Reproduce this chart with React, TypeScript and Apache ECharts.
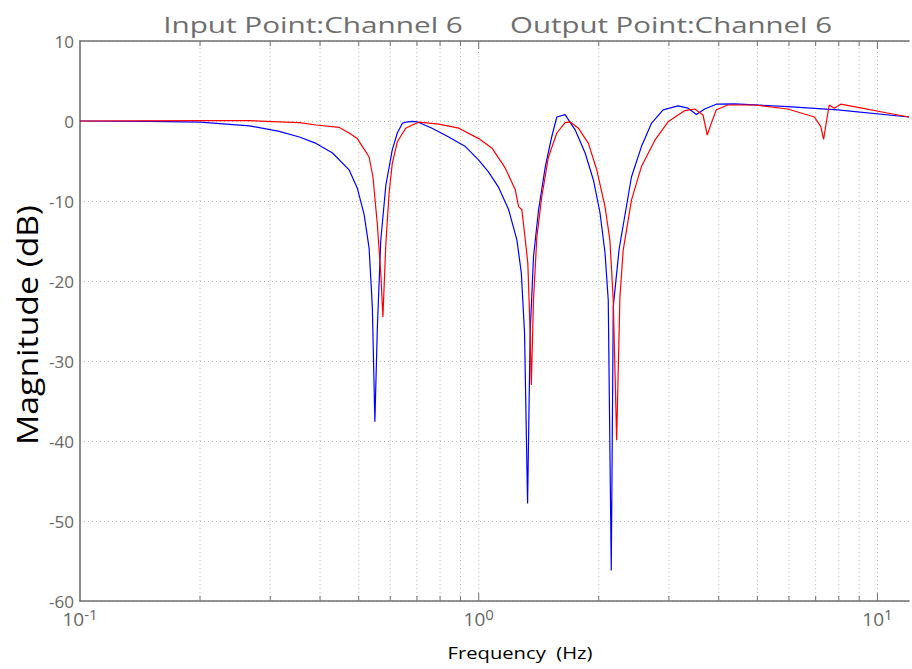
import React, { useEffect, useRef } from "react";
import * as echarts from "echarts";

// ---- data ----
const blueFreq = [
  0.1, 0.15, 0.2, 0.266, 0.316, 0.355, 0.391, 0.43, 0.473, 0.496, 0.516, 0.531, 0.541, 0.549, 0.557,
  0.568, 0.585, 0.607, 0.625, 0.643, 0.656, 0.681, 0.701, 0.764, 0.841, 0.926, 1.0, 1.059, 1.122,
  1.189, 1.247, 1.279, 1.303, 1.326, 1.346, 1.372, 1.413, 1.469, 1.524, 1.57, 1.647, 1.745, 1.849,
  1.94, 2.015, 2.074, 2.113, 2.15, 2.175, 2.25, 2.416, 2.559, 2.711, 2.901, 3.162, 3.35, 3.515,
  3.687, 3.944, 4.383, 5.957, 7.943, 12,
];
const blueMag = [
  0, -0.05, -0.15, -0.6, -1.3, -2.0, -2.8, -4.0, -6.1, -8.4, -11.7, -15.9, -23.2, -37.6, -25.7,
  -14.9, -8.0, -3.6, -1.5, -0.3, -0.15, -0.05, -0.1, -0.9, -2.0, -3.2, -4.9, -6.4, -8.3,
  -11.1, -14.9, -19.0, -26.5, -47.8, -26.5, -17.0, -11.1, -5.7, -2.0, 0.5, 0.8, -1.1, -4.0,
  -7.4, -11.5, -16.5, -22.4, -56.2, -23.2, -16.0, -7.0, -3.2, -0.3, 1.4, 1.9, 1.6, 0.8,
  1.5, 2.1, 2.15, 1.8, 1.4, 0.5,
];
const redFreq = [
  0.1, 0.2, 0.266, 0.316, 0.355, 0.391, 0.447, 0.473, 0.496, 0.511, 0.531, 0.543, 0.557, 0.568,
  0.575, 0.585, 0.596, 0.607, 0.625, 0.656, 0.681, 0.708, 0.794, 0.891, 1.0, 1.08, 1.166, 1.235,
  1.259, 1.283, 1.309, 1.328, 1.346, 1.355, 1.372, 1.399, 1.439, 1.496, 1.57, 1.647, 1.694, 1.778,
  1.884, 1.977, 2.074, 2.133, 2.175, 2.218, 2.26, 2.304, 2.416, 2.559, 2.766, 2.985, 3.287, 3.482,
  3.652, 3.743, 3.83, 3.944, 4.217, 4.917, 5.957, 6.95, 7.211, 7.328, 7.425, 7.57, 7.794, 8.094,
  8.742, 10.59, 12,
];
const redMag = [
  0, 0.05, 0.05, -0.1, -0.2, -0.5, -0.8, -1.5, -2.2, -3.2, -4.5, -7.0, -13.0, -19.0,
  -24.5, -15.3, -9.0, -5.3, -2.6, -0.9, -0.5, -0.15, -0.4, -0.9, -2.2, -3.4, -5.9, -8.6,
  -10.7, -11.1, -14.9, -17.8, -26.5, -33.0, -22.4, -14.5, -9.5, -4.5, -1.5, -0.2, -0.1, -0.9,
  -2.8, -6.1, -10.7, -14.9, -22.4, -39.9, -22.0, -16.1, -9.9, -5.7, -2.4, -0.1, 1.3, 1.5,
  0.75, -1.75, -0.3, 1.4, 2.0, 2.0, 1.5, 0.5, -0.7, -2.3, -0.5, 2.0, 1.6, 2.1,
  1.8, 1.0, 0.5,
];
const gridFreqs = [0.2, 0.3, 0.4, 0.5, 0.6, 0.7, 0.8, 0.9, 1, 2, 3, 4, 5, 6, 7, 8, 9, 10];
const xMin = 0.1;
const xMax = 12;
const yMin = -60;
const yMax = 10;
const yStep = 10;
const titleLeft = "Input Point:Channel 6";
const titleRight = "Output Point:Channel 6";
const xName = "Frequency  (Hz)";
const yName = "Magnitude (dB)";

const FONT = "'Open Sans', 'DejaVu Sans', sans-serif";

function measure(text: string, size: number): number {
  const ctx = document.createElement("canvas").getContext("2d");
  if (!ctx) return text.length * size * 0.55;
  ctx.font = `${size}px ${FONT}`;
  return ctx.measureText(text).width;
}

export default function App() {
  const ref = useRef<HTMLDivElement>(null);

  useEffect(() => {
    document.body.style.margin = "0";
    if (!ref.current) return;
    const chart = echarts.init(ref.current, undefined, { renderer: "svg" });

    const titleSize = 22;
    const xNameSize = 17;
    const yNameSize = 30;
    const axisColor = "#707070";

    const option: any = {
      animation: false,
      backgroundColor: "#ffffff",
      grid: { left: 80, top: 41, right: 0, bottom: 68, containLabel: false },
      xAxis: [
        {
          type: "log",
          logBase: 10,
          min: xMin,
          max: xMax,
          position: "bottom",
          axisLine: { show: true, onZero: false, lineStyle: { color: axisColor, width: 1.6 } },
          axisTick: { show: false },
          splitLine: { show: false },
          axisLabel: {
            margin: 5,
            formatter: (v: number) => {
              const e = Math.round(Math.log10(v));
              if (Math.abs(v - Math.pow(10, e)) > 1e-6 * v) return "";
              return `{b|10}{s|${e}}`;
            },
            rich: {
              b: { fontSize: 19, fontFamily: FONT, color: "#666666", lineHeight: 22, verticalAlign: "bottom" },
              s: { fontSize: 15, fontFamily: FONT, color: "#666666", lineHeight: 12, verticalAlign: "top" },
            },
          },
        },
        {
          type: "log",
          logBase: 10,
          min: xMin,
          max: xMax,
          position: "top",
          axisLine: { show: true, onZero: false, lineStyle: { color: axisColor, width: 1.6 } },
          axisTick: { show: false },
          axisLabel: { show: false },
          splitLine: { show: false },
        },
      ],
      yAxis: {
        type: "value",
        min: yMin,
        max: yMax,
        interval: yStep,
        axisLine: { show: true, onZero: false, lineStyle: { color: axisColor, width: 1.6 } },
        axisTick: { show: false },
        axisLabel: { margin: 6, fontSize: 17, lineHeight: 10, fontFamily: FONT, color: "#666666" },
        splitLine: { show: true, lineStyle: { color: "#b8b8b8", width: 1, type: [1, 3] } },
      },
      graphic: [
        {
          type: "text",
          x: 313,
          y: 25,
          scaleX: 300 / measure(titleLeft, titleSize),
          style: { text: titleLeft, font: `${titleSize}px ${FONT}`, fill: "#6e6e6e", align: "center", verticalAlign: "middle" },
        },
        {
          type: "text",
          x: 671,
          y: 25,
          scaleX: 322 / measure(titleRight, titleSize),
          style: { text: titleRight, font: `${titleSize}px ${FONT}`, fill: "#6e6e6e", align: "center", verticalAlign: "middle" },
        },
        {
          type: "text",
          x: 520,
          y: 652,
          scaleX: 145 / measure(xName, xNameSize),
          style: { text: xName, font: `${xNameSize}px ${FONT}`, fill: "#000000", align: "center", verticalAlign: "middle" },
        },
        {
          type: "text",
          x: 26,
          y: 325,
          rotation: Math.PI / 2,
          scaleX: 240 / measure(yName, yNameSize),
          style: { text: yName, font: `${yNameSize}px ${FONT}`, fill: "#000000", align: "center", verticalAlign: "middle" },
        },
      ],
      series: [
        {
          type: "custom",
          xAxisIndex: 0,
          yAxisIndex: 0,
          silent: true,
          z: 1,
          data: gridFreqs.map((f) => [f, 0]),
          encode: { x: 0, y: 1 },
          renderItem: (_params: any, api: any) => {
            const f = api.value(0);
            const b = api.coord([f, yMin]);
            const t = api.coord([f, yMax]);
            const major = Math.abs(Math.log10(f) - Math.round(Math.log10(f))) < 1e-9;
            const len = major ? 8 : 5;
            return {
              type: "group",
              children: [
                {
                  type: "line",
                  shape: { x1: b[0], y1: b[1], x2: t[0], y2: t[1] },
                  style: { stroke: "#b8b8b8", lineWidth: 1, lineDash: [1, 3] },
                },
                {
                  type: "line",
                  shape: { x1: b[0], y1: b[1], x2: b[0], y2: b[1] - len },
                  style: { stroke: axisColor, lineWidth: 1 },
                },
                {
                  type: "line",
                  shape: { x1: t[0], y1: t[1], x2: t[0], y2: t[1] + len },
                  style: { stroke: axisColor, lineWidth: 1 },
                },
              ],
            };
          },
        },
        {
          name: "Input",
          type: "line",
          z: 3,
          showSymbol: false,
          symbol: "none",
          data: blueFreq.map((f, i) => [f, blueMag[i]]),
          lineStyle: { color: "#0000ff", width: 1.2 },
          itemStyle: { color: "#0000ff" },
        },
        {
          name: "Output",
          type: "line",
          z: 4,
          showSymbol: false,
          symbol: "none",
          data: redFreq.map((f, i) => [f, redMag[i]]),
          lineStyle: { color: "#ff0000", width: 1.2 },
          itemStyle: { color: "#ff0000" },
        },
      ],
    };

    chart.setOption(option);
    return () => chart.dispose();
  }, []);

  return <div ref={ref} style={{ width: 912, height: 669 }} />;
}
